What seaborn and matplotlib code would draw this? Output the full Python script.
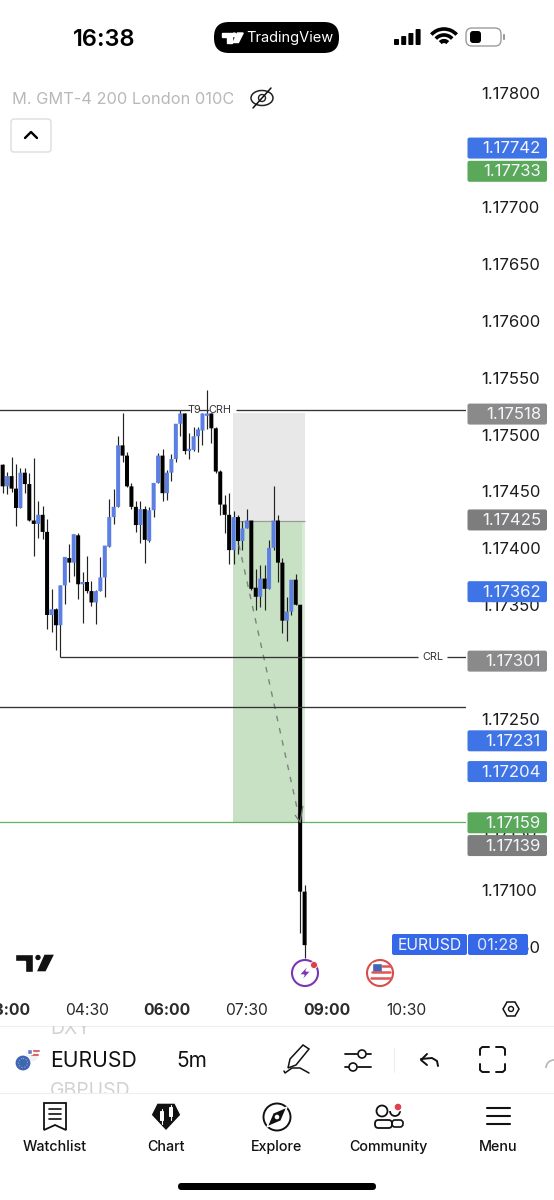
import numpy as np
import pandas as pd
import seaborn as sns
import matplotlib.pyplot as plt
from matplotlib.patches import Arc, Circle, FancyBboxPatch, Polygon, Rectangle
from matplotlib.transforms import Affine2D

# 5m EURUSD candles
opens = [1.17470, 1.17451, 1.17460, 1.17449, 1.17432, 1.17463, 1.17453, 1.17421, 1.17418, 1.17426,
         1.17411, 1.17338, 1.17343, 1.17329, 1.17364, 1.17388, 1.17384, 1.17408, 1.17365, 1.17367,
         1.17359, 1.17349, 1.17359, 1.17371, 1.17398, 1.17424, 1.17433, 1.17487, 1.17478, 1.17451,
         1.17433, 1.17417, 1.17431, 1.17403, 1.17430, 1.17454, 1.17478, 1.17445, 1.17463, 1.17475,
         1.17506, 1.17515, 1.17482, 1.17483, 1.17495, 1.17500, 1.17513, 1.17515, 1.17502, 1.17464,
         1.17435, 1.17426, 1.17395, 1.17424, 1.17403, 1.17414, 1.17421, 1.17362, 1.17354, 1.17370,
         1.17361, 1.17397, 1.17421, 1.17384, 1.17333, 1.17341, 1.17369, 1.17347, 1.17095]
highs = [1.17471, 1.17464, 1.17477, 1.17471, 1.17467, 1.17467, 1.17463, 1.17476, 1.17438, 1.17434,
         1.17422, 1.17361, 1.17344, 1.17364, 1.17389, 1.17400, 1.17409, 1.17410, 1.17376, 1.17390,
         1.17368, 1.17360, 1.17389, 1.17399, 1.17440, 1.17449, 1.17495, 1.17515, 1.17481, 1.17454,
         1.17438, 1.17438, 1.17434, 1.17433, 1.17454, 1.17480, 1.17484, 1.17465, 1.17479, 1.17506,
         1.17518, 1.17515, 1.17498, 1.17503, 1.17503, 1.17515, 1.17536, 1.17515, 1.17503, 1.17465,
         1.17443, 1.17445, 1.17429, 1.17426, 1.17421, 1.17431, 1.17421, 1.17378, 1.17382, 1.17382,
         1.17404, 1.17451, 1.17426, 1.17388, 1.17354, 1.17369, 1.17374, 1.17347, 1.17101]
lows = [1.17445, 1.17444, 1.17446, 1.17416, 1.17432, 1.17445, 1.17421, 1.17390, 1.17406, 1.17405,
        1.17326, 1.17323, 1.17307, 1.17301, 1.17348, 1.17367, 1.17372, 1.17352, 1.17331, 1.17357,
        1.17346, 1.17330, 1.17359, 1.17354, 1.17398, 1.17418, 1.17433, 1.17472, 1.17450, 1.17431,
        1.17411, 1.17401, 1.17384, 1.17402, 1.17424, 1.17454, 1.17438, 1.17439, 1.17456, 1.17472,
        1.17495, 1.17479, 1.17475, 1.17482, 1.17481, 1.17487, 1.17501, 1.17489, 1.17463, 1.17426,
        1.17410, 1.17383, 1.17383, 1.17392, 1.17395, 1.17414, 1.17360, 1.17342, 1.17345, 1.17342,
        1.17361, 1.17395, 1.17367, 1.17322, 1.17315, 1.17338, 1.17347, 1.17059, 1.17037]
closes = [1.17451, 1.17460, 1.17449, 1.17432, 1.17463, 1.17453, 1.17421, 1.17418, 1.17426, 1.17411,
          1.17338, 1.17343, 1.17329, 1.17364, 1.17389, 1.17384, 1.17409, 1.17365, 1.17367, 1.17359,
          1.17349, 1.17359, 1.17371, 1.17399, 1.17424, 1.17433, 1.17487, 1.17478, 1.17451, 1.17433,
          1.17417, 1.17431, 1.17404, 1.17430, 1.17454, 1.17478, 1.17445, 1.17463, 1.17475, 1.17506,
          1.17515, 1.17482, 1.17484, 1.17495, 1.17501, 1.17515, 1.17515, 1.17502, 1.17464, 1.17435,
          1.17426, 1.17395, 1.17424, 1.17403, 1.17414, 1.17421, 1.17361, 1.17354, 1.17370, 1.17361,
          1.17397, 1.17421, 1.17384, 1.17333, 1.17341, 1.17369, 1.17347, 1.17095, 1.17048]

price_ticks = [1.1705, 1.171, 1.1715, 1.172, 1.1725, 1.173, 1.1735, 1.174, 1.1745, 1.175,
               1.1755, 1.176, 1.1765, 1.177, 1.1775, 1.178]
time_bars = [1, 19, 37, 55, 73, 91]
time_labels = ['03:00', '04:30', '06:00', '07:30', '09:00', '10:30']
time_bold = ['03:00', '06:00', '09:00']

crh_level = 1.17518
crl_level = 1.17301
mid_level = 1.17257
tp_line = 1.17156
zone_top = 1.17515
zone_entry = 1.17421

tag_prices = [1.17742, 1.17733, 1.17518, 1.17425, 1.17362, 1.17301, 1.17231, 1.17204, 1.17159, 1.17139]
tag_colors = ['#3f74e6', '#5aa85a', '#8a8a8a', '#7d7d7d', '#3f74e6', '#8a8a8a', '#3f74e6', '#3f74e6', '#5aa85a', '#7d7d7d']
tag_nudge = [-11, 2, 0, 0, 0, 0, 0, 0, 0, 0]  # labels pushed apart on the axis

BLUE = '#5c7fe3'
BLACK = '#000000'
LINE = '#333333'
FONT = ['Inter', 'DejaVu Sans']

df = pd.DataFrame({'bar': range(len(opens)), 'open': opens, 'high': highs, 'low': lows, 'close': closes})
df['bottom'] = df[['open', 'close']].min(axis=1)
df['height'] = (df['close'] - df['open']).abs()
df['up'] = df['close'] > df['open']

sns.set_theme(style='white')
plt.rcParams['font.family'] = FONT

fig = plt.figure(figsize=(5.54, 12), dpi=100)
fig.patch.set_facecolor('white')
ax = fig.add_axes([0, (1200 - 985) / 1200, 466 / 554, 925 / 1200])
ax.set_facecolor('none')

# position tool zones
ax.fill_between([51.9, 68.2], zone_entry, zone_top, color='#e8e8e8', lw=0, zorder=1)
ax.fill_between([51.9, 68.2], tp_line, zone_entry, color='#d9ebd6', lw=0, zorder=1)
ax.fill_between([51.9, 67.4], tp_line, zone_entry, color='#c8e1c5', lw=0, zorder=1)
ax.hlines(zone_entry, 51.9, 68.2, color='#9a9a9a', lw=0.9, zorder=1.5)
ax.hlines(tp_line, -1, 105, color='#62b062', lw=0.9, zorder=1.5)

# candles
ax.vlines(df['bar'], df['low'], df['high'], color='#222222', lw=0.85, zorder=2)
for up, color in [(True, BLUE), (False, BLACK)]:
    part = df[df['up'] == up]
    sns.barplot(data=part, x='bar', y='height', bottom=part['bottom'].values, native_scale=True,
                color=color, saturation=1, width=0.9, errorbar=None, linewidth=0, ax=ax, zorder=3)
for bar in ax.patches:
    bar.set_snap(False)

# levels
for x0, x1 in [(-1, 42.2), (44.3, 46.5), (52.6, 105)]:
    ax.hlines(crh_level, x0, x1, color=LINE, lw=0.95, zorder=4)
for x0, x1 in [(13, 93.6), (100, 105)]:
    ax.hlines(crl_level, x0, x1, color=LINE, lw=0.95, zorder=4)
ax.hlines(mid_level, -1, 105, color=LINE, lw=0.95, zorder=4)
ax.text(43.1, crh_level, 'T9', fontsize=7.8, ha='center', va='center', color='#333333', zorder=5)
ax.text(48.9, crh_level, 'CRH', fontsize=7.8, ha='center', va='center', color='#333333', zorder=5)
ax.text(96.8, crl_level, 'CRL', fontsize=7.8, ha='center', va='center', color='#333333', zorder=5)

# projected path
ax.plot([52, 67], [zone_entry, tp_line], color='#808080', lw=1, dashes=(4, 5), zorder=2.5)
ax.plot([65.9, 67, 67.6], [1.17162, tp_line, 1.17170], color='#777777', lw=0.9, zorder=6)

ax.set_xlim(-0.6, 104.35)
ax.set_ylim(1.17013, 1.178255)
sns.despine(ax=ax, left=True, bottom=True, right=True, top=True)
ax.set_xlabel('')
ax.set_ylabel('')
ax.yaxis.tick_right()
ax.set_yticks(price_ticks)
ax.set_yticklabels([f'{p:.5f}' for p in price_ticks])
ax.tick_params(axis='y', length=0, pad=11, labelsize=12, labelcolor='#1c1c1c')
ax.set_xticks(time_bars)
ax.set_xticklabels(time_labels)
ax.tick_params(axis='x', length=0, pad=13, labelsize=11.3, labelcolor='#2a2a2a')
for lab in ax.get_xticklabels():
    if lab.get_text() in time_bold:
        lab.set_fontweight('bold')
for lab in ax.get_yticklabels():
    lab.set_transform(lab.get_transform() + Affine2D().translate(0, -4))

# everything outside the plot goes on a pixel overlay
ui = fig.add_axes([0, 0, 1, 1], zorder=10)
ui.set_xlim(0, 554)
ui.set_ylim(1200, 0)
ui.axis('off')


def box(x0, y0, x1, y1, r=2, fc='black', ec='none', lw=0):
    ui.add_patch(FancyBboxPatch((x0 + r, y0 + r), x1 - x0 - 2 * r, y1 - y0 - 2 * r,
                                boxstyle=f'round,pad={r},rounding_size={r}', fc=fc, ec=ec, lw=lw))


def stroke(xs, ys, lw=1.5, color='#111111'):
    ui.plot(xs, ys, color=color, lw=lw, solid_capstyle='round', solid_joinstyle='round')


def label(x, y, s, size, color='#111111', ha='center', weight='normal', **kw):
    return ui.text(x, y, s, fontsize=size, color=color, ha=ha, va='center', fontweight=weight, **kw)


def tv_logo(x, y, s, color):
    ui.add_patch(Polygon([(x, y), (x + 18 * s, y), (x + 18 * s, y + 18 * s), (x + 10 * s, y + 18 * s),
                          (x + 10 * s, y + 7 * s), (x, y + 7 * s)], fc=color))
    ui.add_patch(Circle((x + 23 * s, y + 3.5 * s), 3.4 * s, fc=color))
    ui.add_patch(Polygon([(x + 29 * s, y), (x + 40 * s, y), (x + 31 * s, y + 18 * s), (x + 21 * s, y + 18 * s)], fc=color))


# price tags follow the chart's own y scale
for p, c, n in zip(tag_prices, tag_colors, tag_nudge):
    y = 1200 - ax.transData.transform((0, p))[1] + 4 + n
    box(467.5, y - 10.5, 547, y + 10.5, fc=c)
    label(541, y + 0.5, f'{p:.5f}', 12, color='#f4f6fb', ha='right')

# countdown tag
box(392, 934, 467, 955, fc='#3568e8')
box(468, 934, 528, 955, fc='#3568e8')
label(429.5, 945, 'EURUSD', 11.3, color='#f4f6fb')
label(498, 945, '01:28', 11.6, color='#dfe6fb')

# status bar
label(104, 39.5, '16:38', 17, color='black', weight='semibold')
box(214, 22, 339, 53, r=15, fc='black')
label(290, 38, 'TradingView', 10.5, color='white')
tv_logo(222, 33, 0.53, 'white')
for i, h in enumerate([6, 9, 12, 16]):
    box(394 + i * 7.2, 45 - h, 399 + i * 7.2, 45, r=1, fc='black')
for r, lw in [(17, 2.6), (11, 2.6), (5, 3)]:
    ui.add_patch(Arc((444, 46), 2 * r, 2 * r, theta1=222, theta2=318, color='black', lw=lw))
box(466, 28, 501, 46, r=6, fc='white', ec='#9c9c9c', lw=1)
box(470, 31, 481, 43, r=3, fc='black')
box(503, 34, 505, 40, r=0.8, fc='#9c9c9c')

# legend row
leg = label(12, 99, 'M. GMT-4 200 London 010C', 11.8, color='#b8b8b8', ha='left', clip_on=True)
leg.set_clip_path(Rectangle((0, 85), 233, 30, transform=ui.transData))
ui.add_patch(Arc((262, 98), 22, 15, color='#222222', lw=1.1))
ui.add_patch(Circle((262, 98), 3.5, fc='none', ec='#222222', lw=1))
stroke([253, 271], [108, 88], lw=1.1)
box(11, 119, 51, 152, r=3, fc='white', ec='#dddddd', lw=1)
stroke([25, 31, 37], [138, 132, 138], lw=1.7, color='black')

# TV logo
tv_logo(15, 954, 1, '#111111')

# event markers
ui.add_patch(Circle((305, 973), 13, fc='white', ec='#7b35b5', lw=1.5))
ui.add_patch(Polygon([(309, 964), (299, 975), (304, 975), (301, 982), (311, 971), (306, 971)], fc='#7b35b5'))
ui.add_patch(Circle((314, 965), 3.5, fc='#e04040', ec='white', lw=0.6))
ui.add_patch(Circle((380, 973), 13, fc='white', ec='#d94c4c', lw=1.5))
ui.add_patch(Rectangle((372, 963), 10, 9, fc='#3f66b5'))
for y, x0 in [(966, 382), (972, 372), (978, 371)]:
    stroke([x0, 390], [y, y], lw=1.8, color='#e05656')

# time axis bits
ui.add_patch(Polygon([(503, 1009), (507, 1002), (515, 1002), (519, 1009), (515, 1016), (507, 1016)],
                     fc='none', ec='#111111', lw=1.1))
ui.add_patch(Circle((511, 1009), 2.5, fc='none', ec='#111111', lw=1))
stroke([0, 554], [1026, 1026], lw=0.8, color='#efefef')

# symbol bar
for y, s in [(1029, 'DXY'), (1091, 'GBPUSD')]:
    t = label(50, y, s, 14, color='#d2d2d2', ha='left', clip_on=True)
    t.set_clip_path(Rectangle((0, 1025.5), 554, 67.5, transform=ui.transData))
ui.add_patch(Circle((32, 1055), 7, fc='#eef0f6', zorder=2))
stroke([28, 39], [1051, 1051], lw=1.4, color='#d96666')
stroke([32, 38], [1055, 1055], lw=1.4, color='#d96666')
ui.add_patch(Rectangle((26.5, 1049), 5, 5, fc='#5f81c9', zorder=2.5))
ui.add_patch(Circle((23, 1063), 8, fc='#3f66b0', ec='white', lw=0.8, zorder=3))
ui.add_patch(Circle((23, 1063), 4.5, fc='none', ec='#8fa6d8', lw=0.8, ls=':', zorder=3.5))
label(50, 1061, 'EURUSD', 15.2, color='#111111', ha='left', zorder=3)
label(176, 1061, '5m', 15, color='#111111', ha='left', zorder=3)
ui.add_patch(Polygon([(303, 1045), (309, 1049), (296, 1065), (288, 1068), (290, 1059)], fc='white', ec='#111111', lw=1.1))
stroke([284, 285, 292, 300, 309], [1071, 1073, 1068, 1068, 1073], lw=1.1)
stroke([345, 357], [1054, 1054], lw=1.3)
stroke([367, 371], [1054, 1054], lw=1.3)
stroke([345, 349], [1067, 1067], lw=1.3)
stroke([358, 371], [1067, 1067], lw=1.3)
ui.add_patch(Circle((362, 1054), 4, fc='white', ec='#111111', lw=1.2, zorder=3))
ui.add_patch(Circle((353, 1067), 4, fc='white', ec='#111111', lw=1.2, zorder=3))
stroke([394, 394], [1048, 1072], lw=0.7, color='#ececec')
stroke([427, 421, 427], [1054, 1060, 1065], lw=1.4)
stroke([421, 432, 437, 438], [1059, 1058, 1061, 1066], lw=1.4)
for sx, sy in [(480, 1047), (505, 1047), (480, 1072), (505, 1072)]:
    dx = 9 if sx == 480 else -9
    dy = 8 if sy == 1047 else -8
    stroke([sx + dx, sx + dx * 0.25, sx, sx], [sy, sy, sy + dy * 0.25, sy + dy], lw=1.4)
ui.add_patch(Arc((554, 1068), 16, 16, theta1=180, theta2=270, color='#b5b5b5', lw=1.2))
stroke([0, 554], [1093, 1093], lw=0.8, color='#efefef')

# bottom nav
for x, s in zip([55, 166, 277, 388, 498], ['Watchlist', 'Chart', 'Explore', 'Community', 'Menu']):
    label(x, 1147, s, 10.3, color='#111111', weight='medium')
ui.add_patch(Polygon([(44, 1103), (66, 1103), (66, 1130), (55, 1125), (44, 1130)], fc='white', ec='#111111', lw=1.3))
for y in [1109, 1114, 1119]:
    stroke([49, 61], [y, y], lw=1.2)
ui.add_patch(Polygon([(157, 1103), (175, 1103), (181, 1115), (166, 1131), (151, 1115)], fc='#111111'))
box(160, 1111, 164, 1121, r=0.8, fc='white')
box(169, 1107, 173, 1117, r=0.8, fc='white')
stroke([162, 162], [1109, 1124], lw=0.8, color='white')
stroke([171, 171], [1105, 1120], lw=0.8, color='white')
ui.add_patch(Circle((277, 1117), 13.5, fc='white', ec='#111111', lw=1.4))
ui.add_patch(Polygon([(287, 1107), (281, 1121), (267, 1127), (273, 1113)], fc='#111111'))
ui.add_patch(Circle((277, 1117), 1.6, fc='white'))
ui.add_patch(Circle((382, 1111), 5.5, fc='white', ec='#111111', lw=1.3))
box(375, 1120, 392, 1128, r=3.5, fc='white', ec='#111111', lw=1.3)
ui.add_patch(Arc((395, 1111), 10, 10, theta1=0, theta2=180, color='#111111', lw=1.3))
box(392, 1120, 403, 1127, r=3, fc='none', ec='#111111', lw=1.2)
ui.add_patch(Circle((398, 1107), 4, fc='#e04050', zorder=4))
for y in [1108, 1116, 1124]:
    ui.plot([487, 510], [y, y], color='#111111', lw=1.5)

box(178, 1183, 376, 1190, r=3.5, fc='black')

fig.savefig('out.png', dpi=100)
